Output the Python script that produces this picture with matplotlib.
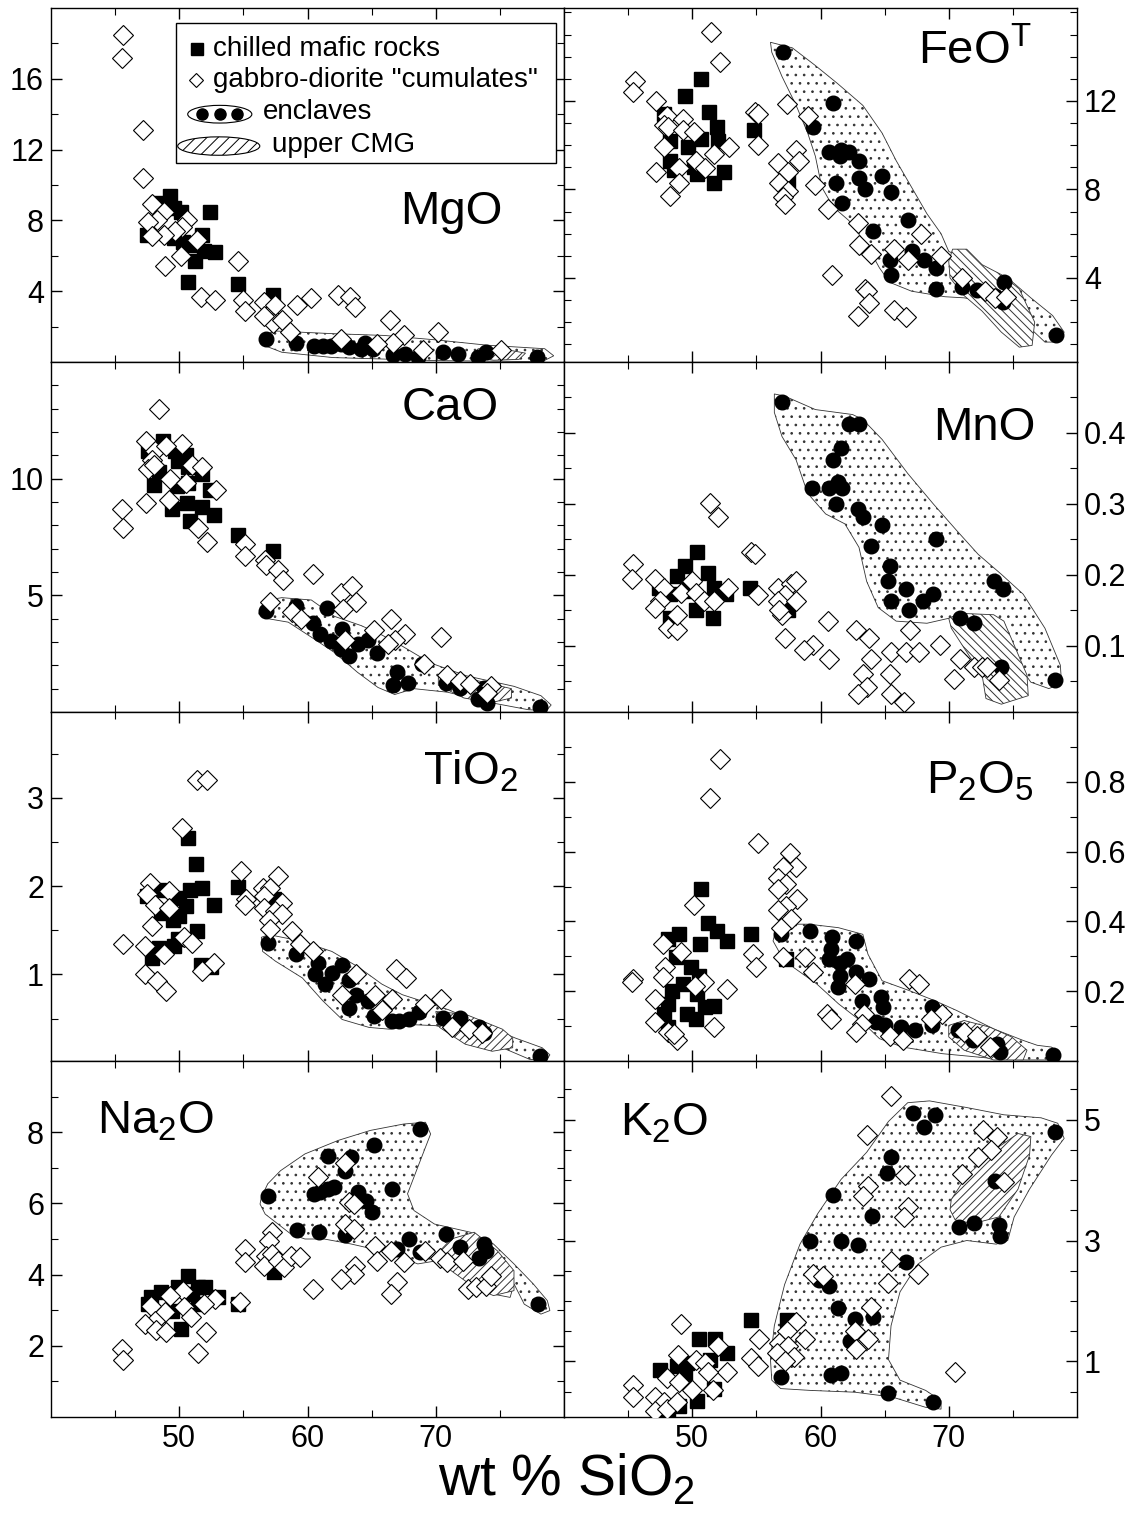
import matplotlib
matplotlib.use('Agg')
import matplotlib.pyplot as plt
from matplotlib.patches import Polygon, Ellipse, Rectangle
from matplotlib.ticker import FixedLocator, FixedFormatter

plt.rcParams['font.family'] = ['Liberation Sans', 'DejaVu Sans']
plt.rcParams['mathtext.fontset'] = 'custom'
plt.rcParams['mathtext.rm'] = 'Liberation Sans'
plt.rcParams['hatch.linewidth'] = 0.7

# ---------------- MgO ----------------
mgo_sq = [(48.3, 9.0), (49.3, 9.4), (49.6, 8.7), (50.1, 8.5), (52.4, 8.5), (47.5, 7.2), (49.6, 7.0),
          (50.3, 6.8), (51.1, 6.6), (51.8, 7.2), (51.9, 6.25), (52.8, 6.2), (51.2, 5.7), (50.7, 4.5),
          (54.6, 4.4), (57.3, 3.8)]
mgo_dia = [(45.6, 18.5), (45.5, 17.2), (47.2, 13.1), (47.2, 10.4), (47.9, 8.9), (48.8, 8.5), (48.3, 8.0),
           (47.6, 7.9), (50.6, 8.0), (50.2, 7.6), (49.7, 7.4), (48.8, 7.2), (47.9, 7.1), (51.4, 6.9),
           (50.1, 6.0), (48.9, 5.4), (54.6, 5.7), (51.7, 3.7), (52.8, 3.5), (55.0, 3.5), (55.1, 2.9),
           (56.6, 3.4), (57.0, 2.7), (57.5, 3.2), (57.3, 2.2), (58.0, 2.4), (56.6, 2.6), (58.6, 1.7),
           (59.2, 3.2), (60.3, 3.6), (62.4, 3.8), (63.3, 3.7), (63.7, 3.1), (66.4, 2.4), (67.5, 1.5),
           (66.7, 1.1), (70.2, 1.7), (62.6, 1.3), (69.0, 0.7), (75.1, 0.65), (65.4, 1.0)]
mgo_enc = [(56.8, 1.3), (59.1, 1.1), (60.5, 0.9), (61.2, 0.9), (61.8, 0.9), (62.6, 1.0), (63.2, 0.85),
           (64.5, 1.1), (65.1, 0.75), (66.7, 0.4), (67.6, 0.45), (68.6, 0.3), (70.6, 0.55), (71.7, 0.45),
           (73.3, 0.3), (73.9, 0.55), (77.9, 0.3), (64.2, 0.75)]
mgo_enc_field = [(56.5, 1.5), (57.5, 1.75), (62.0, 1.6), (66.0, 1.5), (70.0, 1.25), (74.0, 0.95),
                 (78.5, 0.75), (79.2, 0.35), (78.3, 0.02), (70.0, 0.08), (62.0, 0.25), (58.0, 0.55),
                 (56.4, 1.0)]
mgo_cmg_field = [(73.3, 0.75), (75.5, 0.7), (77.0, 0.5), (76.5, 0.15), (74.5, 0.1), (73.0, 0.3)]

# ---------------- FeOT ----------------
feo_sq = [(50.7, 13.0), (49.4, 12.2), (51.3, 11.5), (47.8, 11.4), (51.9, 10.8), (54.8, 10.7), (48.3, 10.2),
          (49.7, 9.9), (50.7, 10.3), (52.0, 10.2), (48.3, 9.3), (48.6, 8.9), (50.1, 9.0), (50.4, 8.7),
          (52.5, 8.8), (51.7, 8.3), (57.5, 8.4)]
feo_dia = [(51.5, 15.1), (52.2, 13.75), (45.5, 12.9), (45.4, 12.4), (47.2, 12.0), (54.9, 11.5), (55.1, 11.4),
           (57.4, 11.85), (59.0, 11.3), (55.1, 10.0), (48.0, 11.3), (49.3, 11.2), (47.8, 10.9), (48.1, 10.8),
           (49.3, 10.7), (50.1, 10.6), (52.9, 9.9), (51.7, 9.6), (47.8, 9.9), (50.3, 9.3), (51.0, 8.95),
           (49.0, 8.95), (47.2, 8.8), (49.0, 8.3), (48.3, 7.7), (58.1, 9.8), (58.3, 9.3), (56.7, 9.2),
           (57.5, 8.8), (56.8, 8.3), (57.5, 7.95), (57.1, 7.65), (57.2, 7.35), (59.6, 8.2), (60.6, 7.1),
           (62.9, 6.5), (63.0, 5.5), (63.9, 5.1), (67.8, 6.0), (65.7, 5.3), (66.8, 4.8), (69.4, 5.0),
           (60.9, 4.15), (63.5, 3.5), (63.6, 3.4), (63.8, 2.85), (62.9, 2.3), (65.7, 2.55), (66.7, 2.25),
           (71.0, 4.0), (72.8, 3.4), (73.6, 3.1), (74.5, 3.15)]
feo_enc = [(57.1, 14.2), (61.0, 11.9), (59.4, 10.8), (60.7, 9.7), (61.6, 9.8), (62.2, 9.7), (61.5, 9.5),
           (63.0, 9.3), (64.8, 8.6), (61.2, 8.3), (63.0, 8.5), (63.5, 8.0), (65.5, 7.9), (61.7, 7.4),
           (66.8, 6.6), (64.1, 6.1), (67.1, 5.2), (65.4, 4.8), (68.1, 4.8), (65.5, 4.15), (69.0, 4.45),
           (69.0, 3.5), (71.0, 3.6), (72.2, 3.45), (73.6, 3.2), (74.3, 3.8), (74.2, 2.9), (78.4, 1.4)]
feo_enc_field = [(56.1, 14.65), (57.8, 14.4), (59.6, 13.6), (61.3, 12.8), (63.3, 11.8), (64.8, 10.55),
                 (65.9, 9.3), (67.1, 8.1), (68.3, 6.9), (69.4, 6.0), (70.0, 5.2), (72.6, 4.45), (74.6, 4.0),
                 (76.4, 3.1), (78.1, 2.3), (79.0, 1.55), (78.6, 1.1), (77.5, 1.1), (76.4, 1.7), (74.9, 2.3),
                 (73.2, 2.9), (71.2, 3.1), (69.7, 3.15), (67.1, 3.4), (65.4, 3.8), (64.6, 4.45), (63.6, 5.5),
                 (62.2, 6.6), (61.0, 7.2), (60.1, 8.1), (59.6, 9.5), (59.0, 10.55), (58.1, 11.8),
                 (57.0, 13.1), (56.2, 14.2)]
feo_cmg_field = [(70.3, 5.3), (71.4, 5.3), (72.6, 4.6), (74.1, 4.15), (75.5, 3.5), (76.7, 2.0), (76.5, 0.95),
                 (75.5, 0.87), (74.1, 1.55), (72.6, 2.5), (71.2, 3.2), (70.1, 4.0), (70.0, 4.75)]

# ---------------- CaO ----------------
cao_sq = [(48.7, 11.6), (49.7, 11.2), (50.5, 11.0), (47.6, 11.2), (48.4, 10.3), (49.9, 10.75), (50.7, 10.5),
          (48.0, 9.75), (49.8, 9.7), (50.7, 9.8), (51.8, 10.2), (52.4, 9.5), (49.4, 8.7), (50.6, 8.95),
          (51.8, 8.8), (52.7, 8.45), (50.8, 8.2), (54.6, 7.6), (57.3, 6.9)]
cao_dia = [(48.4, 13.0), (47.4, 11.6), (50.2, 11.5), (48.1, 11.2), (49.0, 11.4), (47.9, 10.8), (47.6, 10.4),
           (48.0, 10.6), (51.0, 10.6), (51.8, 10.5), (49.3, 10.0), (50.5, 9.8), (52.9, 9.5), (49.2, 9.1),
           (47.4, 8.95), (45.5, 8.7), (45.6, 7.9), (51.5, 7.9), (52.2, 7.3), (55.1, 7.2), (55.1, 6.7),
           (56.7, 6.5), (56.8, 6.3), (57.7, 6.1), (58.1, 5.65), (60.4, 5.9), (57.1, 4.7), (62.6, 5.1),
           (63.5, 5.4), (63.8, 4.7), (62.8, 4.4), (58.8, 4.3), (59.5, 4.0), (65.2, 3.5), (66.5, 4.0),
           (67.6, 3.35), (66.8, 3.1), (66.3, 2.9), (70.4, 3.2), (62.9, 3.1), (69.1, 2.05), (70.9, 1.6),
           (71.9, 1.35), (72.7, 1.2), (74.3, 1.1), (74.0, 0.8)]
cao_enc = [(56.8, 4.35), (59.1, 4.55), (61.5, 4.45), (60.4, 3.8), (61.0, 3.35), (61.8, 3.05), (62.6, 2.7),
           (62.7, 3.55), (63.2, 2.4), (63.9, 2.9), (64.7, 3.1), (65.4, 2.55), (67.0, 1.7), (68.9, 2.05),
           (67.8, 1.25), (66.7, 1.15), (70.8, 1.25), (71.9, 1.05), (73.8, 1.05), (73.3, 0.55),
           (74.0, 0.4), (78.1, 0.2)]
cao_enc_field = [(56.3, 4.4), (56.9, 4.8), (58.0, 4.9), (60.3, 4.8), (62.1, 4.1), (64.2, 3.7), (65.8, 3.3),
                 (67.3, 2.85), (69.6, 2.1), (72.4, 1.55), (76.1, 1.1), (78.2, 0.7), (79.0, 0.3),
                 (78.6, 0.05), (77.2, 0.1), (74.3, 0.4), (70.9, 0.85), (68.3, 1.0), (66.8, 0.75),
                 (65.5, 1.05), (63.9, 1.7), (62.1, 2.55), (60.6, 3.1), (58.5, 3.85), (56.9, 4.0), (56.2, 4.2)]
cao_cmg_field = [(70.2, 1.55), (72.4, 1.45), (75.9, 1.0), (75.9, 0.6), (74.3, 0.4), (72.2, 0.6), (70.2, 1.15)]

# ---------------- MnO ----------------
mno_sq = [(50.4, 0.232), (49.4, 0.213), (51.2, 0.203), (48.8, 0.199), (47.4, 0.182), (48.3, 0.173),
          (49.6, 0.177), (51.7, 0.182), (52.6, 0.173), (50.3, 0.151), (51.6, 0.139), (48.3, 0.139),
          (54.5, 0.182), (57.5, 0.151)]
mno_dia = [(45.4, 0.215), (45.3, 0.195), (47.1, 0.194), (47.8, 0.182), (47.5, 0.163), (47.1, 0.154),
           (48.1, 0.125), (48.8, 0.123), (48.8, 0.144), (49.1, 0.175), (50.0, 0.192), (50.3, 0.175),
           (50.9, 0.163), (51.7, 0.163), (52.8, 0.182), (51.4, 0.301), (52.0, 0.281), (54.6, 0.232),
           (54.9, 0.230), (55.1, 0.172), (56.7, 0.182), (57.7, 0.187), (58.1, 0.191), (57.2, 0.172),
           (56.7, 0.163), (58.1, 0.163), (57.0, 0.144), (57.2, 0.111), (56.8, 0.151), (60.6, 0.135),
           (59.4, 0.101), (58.7, 0.094), (60.7, 0.082), (62.8, 0.123), (63.8, 0.111), (63.9, 0.082),
           (63.3, 0.061), (63.6, 0.042), (62.9, 0.033), (65.5, 0.092), (65.4, 0.061), (65.5, 0.033),
           (66.5, 0.021), (66.7, 0.092), (67.7, 0.092), (67.0, 0.123), (69.3, 0.101), (70.4, 0.054),
           (70.9, 0.082), (72.0, 0.071), (72.6, 0.071), (73.0, 0.071), (73.9, 0.052)]
mno_enc = [(57.0, 0.443), (62.2, 0.412), (63.0, 0.412), (61.6, 0.379), (61.0, 0.362), (59.3, 0.322),
           (60.7, 0.322), (61.4, 0.331), (61.7, 0.322), (61.2, 0.300), (62.9, 0.293), (63.3, 0.281),
           (64.8, 0.270), (69.0, 0.251), (63.9, 0.241), (65.4, 0.213), (65.3, 0.191), (66.7, 0.180),
           (65.5, 0.163), (68.0, 0.163), (68.8, 0.173), (66.9, 0.151), (73.5, 0.191), (74.2, 0.180),
           (70.9, 0.139), (72.0, 0.132), (74.1, 0.071), (78.3, 0.052)]
mno_enc_field = [(56.4, 0.455), (57.2, 0.452), (59.6, 0.433), (62.5, 0.426), (63.3, 0.419), (64.8, 0.391),
                 (66.8, 0.343), (68.8, 0.300), (70.6, 0.263), (72.3, 0.229), (74.1, 0.201), (75.8, 0.173),
                 (77.5, 0.125), (78.7, 0.073), (78.8, 0.047), (77.8, 0.040), (76.4, 0.049), (74.9, 0.087),
                 (74.1, 0.135), (72.3, 0.144), (70.0, 0.139), (68.3, 0.132), (65.9, 0.135), (64.5, 0.154),
                 (63.6, 0.191), (63.0, 0.239), (61.9, 0.272), (60.4, 0.286), (59.0, 0.315), (58.1, 0.362),
                 (57.0, 0.395), (56.4, 0.429)]
mno_cmg_field = [(70.0, 0.139), (70.9, 0.146), (73.5, 0.144), (74.3, 0.135), (75.2, 0.097), (76.1, 0.059),
                 (76.2, 0.030), (74.1, 0.018), (72.9, 0.026), (72.6, 0.059), (71.2, 0.097), (70.2, 0.125)]

# ---------------- TiO2 ----------------
tio_sq = [(50.7, 2.54), (51.3, 2.25), (51.8, 1.98), (50.8, 1.95), (50.0, 1.87), (48.4, 1.96), (47.5, 1.89),
          (50.5, 1.77), (48.6, 1.70), (49.5, 1.62), (50.0, 1.66), (52.7, 1.79), (54.6, 1.99), (51.4, 1.49),
          (49.9, 1.4), (49.6, 1.32), (48.4, 1.3), (47.9, 1.19), (51.7, 1.11), (52.5, 1.08), (57.4, 1.85)]
tio_dia = [(51.4, 3.2), (52.2, 3.2), (50.2, 2.66), (54.8, 2.17), (57.7, 2.11), (56.5, 1.98), (57.1, 1.98),
           (47.7, 2.03), (47.5, 1.91), (48.1, 1.79), (49.2, 1.94), (49.2, 1.75), (55.2, 1.85), (55.1, 1.79),
           (56.6, 1.89), (58.0, 1.81), (56.6, 1.75), (57.5, 1.72), (58.0, 1.68), (57.0, 1.62), (57.1, 1.51),
           (58.8, 1.49), (47.9, 1.55), (45.6, 1.34), (47.3, 1.32), (48.8, 1.23), (50.4, 1.42), (51.0, 1.36),
           (52.7, 1.13), (51.8, 1.04), (47.3, 1.0), (48.3, 0.92), (49.0, 0.81), (59.4, 1.34), (60.4, 1.26),
           (63.8, 1.0), (66.9, 1.06), (67.7, 0.96), (62.7, 0.77), (65.3, 0.77), (66.6, 0.72), (65.8, 0.6),
           (69.2, 0.66), (70.4, 0.72), (71.3, 0.4), (72.6, 0.38), (73.6, 0.34)]
tio_enc = [(56.9, 1.36), (59.1, 1.23), (60.8, 1.13), (60.6, 1.0), (61.4, 0.89), (61.9, 1.02), (62.7, 1.11),
           (63.2, 0.94), (63.8, 0.77), (64.7, 0.7), (63.2, 0.62), (65.2, 0.53), (66.6, 0.47), (67.1, 0.47),
           (67.9, 0.49), (68.7, 0.57), (70.6, 0.51), (71.9, 0.51), (73.4, 0.4), (73.8, 0.34), (78.1, 0.08)]
tio_enc_field = [(56.4, 1.42), (57.0, 1.45), (59.4, 1.38), (61.9, 1.26), (64.0, 1.08), (65.8, 0.89),
                 (67.4, 0.77), (68.9, 0.7), (71.0, 0.6), (73.1, 0.47), (76.2, 0.28), (78.3, 0.17),
                 (78.9, 0.09), (78.6, 0.02), (77.3, 0.04), (75.2, 0.17), (72.3, 0.34), (70.0, 0.42),
                 (68.4, 0.43), (66.4, 0.38), (64.8, 0.40), (62.7, 0.49), (61.2, 0.7), (59.6, 0.96),
                 (57.5, 1.15), (56.5, 1.26)]
tio_cmg_field = [(70.0, 0.58), (72.3, 0.55), (75.2, 0.38), (76.0, 0.28), (76.0, 0.17), (74.4, 0.13),
                 (72.3, 0.21), (70.3, 0.4)]

# ---------------- P2O5 ----------------
p_sq = [(50.7, 0.493), (51.2, 0.396), (51.9, 0.373), (52.7, 0.344), (50.6, 0.335), (49.0, 0.363),
        (48.1, 0.349), (48.7, 0.297), (49.9, 0.268), (50.5, 0.244), (49.3, 0.221), (48.4, 0.202),
        (50.4, 0.192), (51.0, 0.154), (51.7, 0.159), (48.1, 0.164), (47.8, 0.135), (49.6, 0.135),
        (50.3, 0.121), (48.1, 0.097), (54.6, 0.363), (57.3, 0.292)]
p_dia = [(52.2, 0.866), (51.4, 0.754), (55.1, 0.624), (57.6, 0.596), (58.1, 0.555), (57.1, 0.555),
         (56.7, 0.525), (57.3, 0.506), (56.7, 0.493), (58.2, 0.465), (57.3, 0.444), (56.7, 0.434),
         (57.7, 0.406), (56.9, 0.382), (50.1, 0.446), (47.7, 0.335), (49.1, 0.311), (47.9, 0.268),
         (47.7, 0.24), (45.4, 0.235), (45.3, 0.225), (50.9, 0.225), (50.2, 0.216), (52.7, 0.206),
         (47.1, 0.178), (47.1, 0.112), (48.1, 0.083), (48.8, 0.059), (48.6, 0.078), (51.7, 0.097),
         (54.7, 0.306), (55.0, 0.268), (57.1, 0.297), (58.8, 0.297), (59.4, 0.254), (60.5, 0.135),
         (60.8, 0.121), (62.7, 0.221), (63.4, 0.135), (63.2, 0.107), (62.8, 0.083), (65.4, 0.073),
         (66.4, 0.059), (66.9, 0.235), (67.7, 0.221), (69.5, 0.135), (68.6, 0.121), (71.2, 0.083),
         (72.2, 0.073), (73.2, 0.040)]
p_enc = [(56.9, 0.363), (59.2, 0.373), (60.9, 0.354), (62.8, 0.344), (60.8, 0.32), (60.7, 0.292),
         (61.5, 0.282), (62.1, 0.292), (61.5, 0.244), (62.8, 0.254), (63.8, 0.235), (61.4, 0.211),
         (63.2, 0.173), (64.7, 0.183), (64.9, 0.154), (64.3, 0.112), (65.0, 0.102), (66.3, 0.097),
         (67.4, 0.089), (68.7, 0.154), (68.7, 0.102), (70.7, 0.088), (71.9, 0.059), (73.8, 0.050),
         (74.0, 0.026), (78.1, 0.017)]
p_enc_field = [(56.5, 0.373), (57.3, 0.392), (59.1, 0.392), (61.4, 0.382), (63.3, 0.363), (63.7, 0.306),
               (64.8, 0.230), (66.9, 0.202), (68.9, 0.173), (70.6, 0.145), (73.5, 0.092), (75.8, 0.059),
               (76.9, 0.045), (78.0, 0.04), (78.7, 0.021), (78.3, 0.003), (76.0, 0.003), (73.5, 0.007),
               (69.5, 0.021), (66.4, 0.040), (64.6, 0.064), (63.4, 0.107), (61.4, 0.164), (59.7, 0.221),
               (57.9, 0.268), (56.8, 0.311), (56.3, 0.344)]
p_cmg_field = [(70.0, 0.102), (71.2, 0.116), (73.2, 0.097), (74.9, 0.069), (76.1, 0.031), (75.8, 0.003),
               (73.5, 0.003), (71.2, 0.031), (70.0, 0.069)]

# ---------------- Na2O ----------------
na_sq = [(50.7, 3.97), (51.5, 3.64), (52.0, 3.64), (51.0, 3.45), (49.9, 3.64), (48.6, 3.5), (47.8, 3.36),
         (47.6, 3.17), (53.0, 3.36), (51.5, 3.17), (49.4, 2.99), (50.1, 2.47), (54.6, 3.17), (57.4, 4.06)]
na_dia = [(60.8, 6.73), (62.9, 7.13), (63.2, 6.03), (63.6, 5.98), (62.9, 5.42), (63.6, 5.28), (57.2, 5.19),
          (57.0, 4.95), (56.8, 4.53), (57.2, 4.58), (56.6, 4.25), (57.7, 4.39), (58.2, 4.2), (58.7, 4.53),
          (59.4, 4.5), (55.1, 4.72), (55.1, 4.35), (65.3, 4.81), (65.4, 4.39), (66.5, 4.67), (67.5, 4.35),
          (69.2, 4.67), (70.3, 4.48), (70.9, 4.35), (72.1, 4.39), (72.5, 3.6), (73.1, 3.64), (73.9, 3.69),
          (74.3, 3.97), (63.7, 4.25), (63.6, 4.02), (62.6, 3.88), (60.4, 3.6), (67.0, 3.78), (66.5, 3.45),
          (54.7, 3.22), (52.8, 3.31), (51.9, 3.17), (50.3, 3.55), (50.4, 3.08), (49.3, 3.41), (48.9, 2.94),
          (47.8, 3.13), (48.1, 2.7), (47.3, 2.6), (48.2, 2.44), (49.0, 2.4), (50.9, 2.8), (52.1, 2.38),
          (45.5, 1.91), (45.6, 1.6), (51.5, 1.81)]
na_enc = [(68.8, 8.09), (65.2, 7.65), (61.6, 7.34), (63.4, 7.3), (62.9, 6.92), (60.5, 6.27), (61.0, 6.31),
          (61.6, 6.4), (62.1, 6.45), (66.6, 6.41), (63.9, 6.31), (64.6, 6.08), (65.0, 5.75), (56.9, 6.22),
          (59.2, 5.25), (60.9, 5.19), (62.9, 5.12), (67.9, 5.0), (67.0, 4.72), (68.8, 4.63), (70.8, 5.14),
          (71.9, 4.77), (73.8, 4.86), (73.9, 4.67), (73.4, 4.48), (78.0, 3.17)]
na_enc_field = [(56.4, 6.17), (56.9, 6.55), (57.9, 6.92), (59.8, 7.39), (62.4, 7.77), (64.9, 8.05),
                (67.5, 8.23), (69.2, 8.28), (69.6, 7.95), (68.6, 7.02), (67.8, 6.27), (68.3, 5.8),
                (69.9, 5.42), (72.7, 5.19), (74.5, 4.86), (76.1, 4.3), (77.6, 3.74), (78.7, 3.27),
                (78.9, 2.99), (78.2, 2.89), (76.9, 3.17), (76.1, 3.74), (75.8, 3.36), (74.5, 3.45),
                (72.5, 4.02), (70.1, 4.39), (68.6, 4.3), (67.3, 4.48), (65.7, 4.67), (63.4, 4.86),
                (61.3, 5.0), (59.8, 5.0), (58.7, 5.14), (57.7, 5.42), (56.7, 5.7), (56.3, 5.98)]
na_cmg_field = [(70.1, 4.58), (71.2, 5.0), (73.0, 5.19), (74.8, 4.67), (76.1, 4.11), (76.1, 3.55),
                (74.5, 3.41), (73.0, 3.64), (71.2, 4.11)]

# ---------------- K2O ----------------
k_sq = [(54.6, 1.68), (57.4, 1.68), (50.5, 1.37), (51.8, 1.37), (52.7, 1.14), (51.4, 1.03), (47.5, 0.86),
        (48.8, 0.92), (49.6, 0.97), (49.4, 0.77), (51.7, 0.55), (50.4, 0.35), (49.0, 0.27), (48.1, 0.15)]
k_dia = [(65.5, 5.39), (63.6, 4.75), (72.7, 4.83), (73.8, 4.72), (73.3, 4.49), (72.3, 4.38), (71.0, 4.1),
         (66.6, 4.08), (74.3, 3.96), (63.7, 3.9), (63.3, 3.73), (66.8, 3.56), (66.5, 3.39), (65.5, 2.66),
         (67.6, 2.44), (59.4, 2.44), (60.2, 2.41), (65.3, 2.3), (63.9, 1.9), (62.7, 1.51), (63.7, 1.37),
         (62.8, 1.2), (58.1, 1.65), (57.4, 1.51), (58.8, 1.37), (56.8, 1.31), (57.5, 1.25), (56.6, 1.14),
         (57.9, 1.08), (57.2, 1.0), (55.2, 1.37), (54.6, 1.06), (55.1, 0.92), (70.5, 0.83), (49.1, 1.62),
         (48.9, 1.11), (50.3, 1.03), (51.0, 0.97), (52.0, 1.25), (52.7, 0.83), (48.0, 0.72), (49.0, 0.66),
         (51.2, 0.83), (51.6, 0.52), (50.0, 0.52), (45.4, 0.61), (45.4, 0.41), (47.1, 0.41), (47.8, 0.32),
         (47.1, 0.18), (48.0, 0.21), (48.8, 0.32)]
k_enc = [(67.2, 5.11), (68.9, 5.08), (68.1, 4.87), (78.3, 4.79), (65.5, 4.38), (65.2, 4.12), (73.6, 3.99),
         (61.0, 3.76), (64.0, 3.41), (70.8, 3.23), (72.0, 3.29), (73.9, 3.25), (74.0, 3.08), (59.2, 3.0),
         (61.6, 3.0), (62.9, 2.92), (66.7, 2.65), (59.9, 2.35), (60.7, 2.24), (61.4, 1.88), (62.7, 1.7),
         (64.1, 1.73), (62.3, 1.34), (56.9, 0.75), (60.8, 0.77), (61.6, 0.8), (65.3, 0.48), (68.8, 0.32)]
k_enc_field = [(56.1, 1.03), (56.4, 1.59), (57.2, 2.27), (58.4, 2.94), (59.8, 3.45), (61.6, 4.01),
               (63.6, 4.46), (65.3, 4.97), (66.8, 5.28), (68.5, 5.31), (71.4, 5.2), (74.3, 5.08),
               (77.2, 5.03), (78.5, 4.94), (79.0, 4.69), (78.0, 4.41), (76.3, 3.85), (75.1, 3.39),
               (74.6, 3.0), (73.7, 2.94), (71.4, 3.0), (69.4, 2.89), (67.6, 2.61), (66.2, 2.15),
               (65.5, 1.59), (65.3, 1.03), (66.2, 0.69), (68.2, 0.52), (69.4, 0.35), (69.4, 0.21),
               (68.2, 0.24), (65.6, 0.41), (62.7, 0.49), (59.2, 0.52), (56.9, 0.55), (56.2, 0.69)]
k_cmg_field = [(70.2, 3.68), (71.4, 4.07), (73.7, 4.52), (75.4, 4.77), (76.4, 4.72), (76.3, 4.41),
               (75.4, 3.85), (73.9, 3.39), (71.9, 3.28), (70.5, 3.34), (70.1, 3.51)]

# panel settings: label, points, fields, y range, ticks
panels = [
    ('MgO', mgo_sq, mgo_dia, mgo_enc, mgo_enc_field, mgo_cmg_field, (0, 20), [4, 8, 12, 16],
     [2, 6, 10, 14, 18], (0.78, 0.424), '////'),
    ('FeO$^{\\mathregular{T}}$', feo_sq, feo_dia, feo_enc, feo_enc_field, feo_cmg_field, (0.2, 16.2),
     [4, 8, 12], [1, 2, 3, 5, 6, 7, 9, 10, 11, 13, 14, 15, 16], (0.80, 0.875), '\\\\\\\\'),
    ('CaO', cao_sq, cao_dia, cao_enc, cao_enc_field, cao_cmg_field, (0, 15), [5, 10],
     [1, 2, 3, 4, 6, 7, 8, 9, 11, 12, 13, 14], (0.778, 0.869), '////'),
    ('MnO', mno_sq, mno_dia, mno_enc, mno_enc_field, mno_cmg_field, (0.007, 0.5), [0.1, 0.2, 0.3, 0.4],
     [0.05, 0.15, 0.25, 0.35, 0.45], (0.82, 0.811), '\\\\\\\\'),
    ('TiO$_2$', tio_sq, tio_dia, tio_enc, tio_enc_field, tio_cmg_field, (0.02, 3.97), [1, 2, 3],
     [0.5, 1.5, 2.5, 3.5], (0.817, 0.83), '////'),
    ('P$_2$O$_5$', p_sq, p_dia, p_enc, p_enc_field, p_cmg_field, (0.0, 1.0), [0.2, 0.4, 0.6, 0.8],
     [0.1, 0.3, 0.5, 0.7, 0.9], (0.81, 0.80), '////'),
    ('Na$_2$O', na_sq, na_dia, na_enc, na_enc_field, na_cmg_field, (0, 10), [2, 4, 6, 8],
     [1, 3, 5, 7, 9], (0.203, 0.83), '////'),
    ('K$_2$O', k_sq, k_dia, k_enc, k_enc_field, k_cmg_field, (0.08, 5.97), [1, 3, 5],
     [0.5, 1.5, 2, 2.5, 3.5, 4, 4.5, 5.5], (0.196, 0.825), '////'),
]

fig = plt.figure(figsize=(11.4, 15.15), dpi=100)

col_x = [51 / 1140, 564 / 1140]
col_w = 513 / 1140
row_edges = [8, 362, 712, 1061, 1417]

axes = []
for i, (label, sq, dia, enc, enc_field, cmg_field, ylim, major, minor, lpos, chatch) in enumerate(panels):
    row, col = divmod(i, 2)
    top = 1 - row_edges[row] / 1515
    bot = 1 - row_edges[row + 1] / 1515
    ax = fig.add_axes([col_x[col], bot, col_w, top - bot])
    axes.append(ax)

    ax.add_patch(Polygon(enc_field, closed=True, facecolor='white', edgecolor='#333333',
                         lw=0.6, hatch='..', zorder=1))
    ax.add_patch(Polygon(cmg_field, closed=True, facecolor='white', edgecolor='#333333',
                         lw=0.6, hatch=chatch, zorder=2))

    ex, ey = zip(*enc)
    ax.plot(ex, ey, 'o', ms=10.5, mfc='black', mec='black', zorder=3)
    sx, sy = zip(*sq)
    ax.plot(sx, sy, 's', ms=10.5, mfc='black', mec='black', zorder=4)
    dx, dy = zip(*dia)
    ax.plot(dx, dy, 'D', ms=9.8, mfc='white', mec='black', mew=0.8, zorder=5)

    ax.set_xlim(40, 80)
    ax.set_ylim(*ylim)
    ax.xaxis.set_major_locator(FixedLocator([50, 60, 70]))
    ax.xaxis.set_minor_locator(FixedLocator([45, 55, 65, 75]))
    ax.yaxis.set_major_locator(FixedLocator(major))
    ax.yaxis.set_major_formatter(FixedFormatter(['%g' % v for v in major]))
    ax.yaxis.set_minor_locator(FixedLocator(minor))
    ax.tick_params(which='both', direction='in', top=True, bottom=True, left=True, right=True)
    ax.tick_params(which='major', length=8, width=1.0)
    ax.tick_params(which='minor', length=5, width=0.8)
    ax.tick_params(labelbottom=(row == 3), labelleft=(col == 0), labelright=(col == 1),
                   labelsize=22, pad=5)
    for s in ax.spines.values():
        s.set_linewidth(1.0)

    ax.text(lpos[0], lpos[1], label, transform=ax.transAxes, fontsize=34,
            ha='center', va='center', zorder=6)

# legend drawn inside the MgO panel
lg = axes[0]
lg.add_patch(Rectangle((0.244, 0.562), 0.741, 0.396, transform=lg.transAxes,
                       facecolor='white', edgecolor='black', lw=1.0, zorder=7))
lg.plot([0.285], [0.885], 's', ms=8, mfc='black', mec='black', transform=lg.transAxes, zorder=8)
lg.text(0.316, 0.885, 'chilled mafic rocks', transform=lg.transAxes, fontsize=20,
        va='center', zorder=8)
lg.plot([0.283], [0.796], 'D', ms=7.5, mfc='white', mec='black', mew=0.8,
        transform=lg.transAxes, zorder=8)
lg.text(0.316, 0.796, 'gabbro-diorite "cumulates"', transform=lg.transAxes, fontsize=20,
        va='center', zorder=8)
lg.add_patch(Ellipse((0.329, 0.700), 0.125, 0.05, transform=lg.transAxes,
                     facecolor='white', edgecolor='black', lw=0.8, zorder=8))
lg.plot([0.295, 0.329, 0.363], [0.700, 0.700, 0.700], 'o', ms=8, mfc='black', mec='black',
        transform=lg.transAxes, zorder=9)
lg.text(0.413, 0.706, 'enclaves', transform=lg.transAxes, fontsize=20, va='center', zorder=8)
lg.add_patch(Ellipse((0.327, 0.610), 0.16, 0.052, transform=lg.transAxes,
                     facecolor='white', edgecolor='black', lw=0.8, hatch='///', zorder=8))
lg.text(0.431, 0.613, 'upper CMG', transform=lg.transAxes, fontsize=20, va='center', zorder=8)

fig.text(0.497, 0.0125, 'wt % SiO$_2$', fontsize=41, ha='center', va='baseline')

fig.savefig('out.png', dpi=100)
